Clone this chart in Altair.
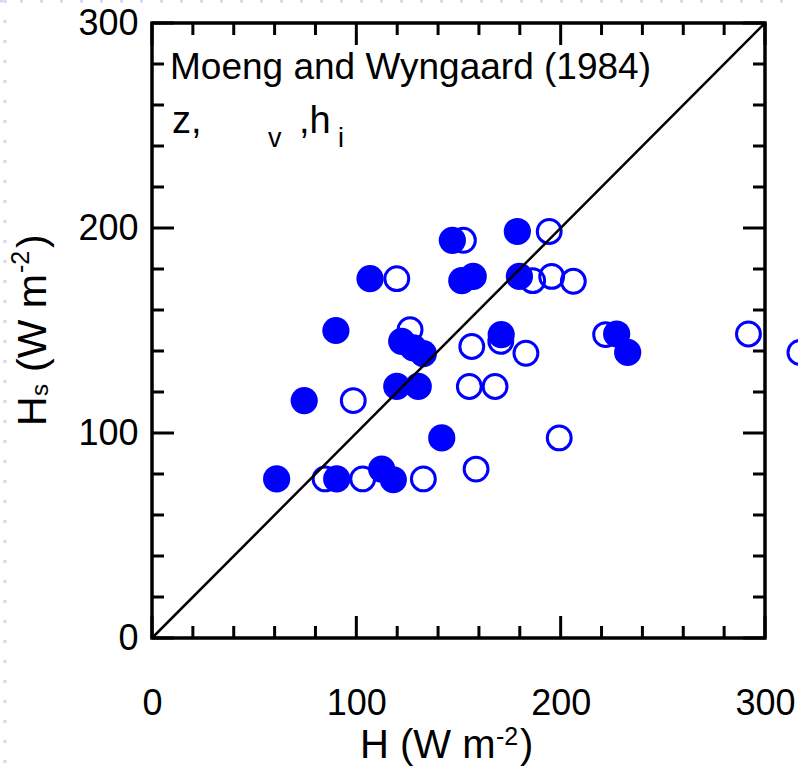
import altair as alt
import pandas as pd

# Sensible heat flux: observed H vs. scaled estimate Hs (W m-2)
filled_H = [61.0, 74.5, 90.0, 90.4, 106.7, 112.4, 118.1, 119.8, 122.2, 127.9, 132.8,
            130.3, 141.8, 147.0, 151.6, 157.2, 170.9, 178.8, 179.8, 227.4, 232.8]
filled_Hs = [77.6, 115.8, 150.0, 77.6, 175.3, 82.4, 77.2, 122.7, 144.7, 141.5, 138.7,
             122.7, 97.6, 194.0, 174.3, 176.4, 148.0, 198.3, 176.4, 148.3, 139.3]

open_H = [84.7, 98.5, 103.1, 119.8, 126.3, 132.8, 152.4, 155.3, 156.5, 158.6, 167.9,
          170.7, 183.0, 186.3, 194.4, 195.6, 199.3, 206.2, 222.0, 291.9, 317.1]
open_Hs = [77.6, 115.8, 77.6, 175.3, 150.4, 77.6, 194.0, 122.7, 142.2, 82.4, 122.7,
           144.7, 138.9, 174.3, 198.3, 176.4, 97.6, 174.0, 148.0, 148.3, 139.3]

one_to_one = [0, 300]
major_ticks = [0, 100, 200, 300]
minor_ticks = [20, 40, 60, 80, 120, 140, 160, 180, 220, 240, 260, 280]

title_text = "Moeng and Wyngaard (1984)"

W, H = 613, 615
FONT = "Liberation Sans"
BLUE = "#0000ff"

xs = alt.Scale(domain=[0, 300], nice=False, zero=False)
ys = alt.Scale(domain=[0, 300], nice=False, zero=False)

x_axis = alt.Axis(values=major_ticks, labelFontSize=36, labelFont=FONT, labelColor="black",
                  labelPadding=48, ticks=False, tickSize=0, domain=False, grid=False,
                  title=None, labelFlush=False)
y_axis = alt.Axis(values=major_ticks, labelFontSize=36, labelFont=FONT, labelColor="black",
                  labelPadding=14, ticks=False, tickSize=0, domain=False, grid=False,
                  title=None, labelFlush=False)

X = alt.X("H:Q", scale=xs, axis=x_axis)
Y = alt.Y("Hs:Q", scale=ys, axis=y_axis)

filled_df = pd.DataFrame({"H": filled_H, "Hs": filled_Hs})
open_df = pd.DataFrame({"H": open_H, "Hs": open_Hs})
line_df = pd.DataFrame({"H": one_to_one, "Hs": one_to_one})
major_df = pd.DataFrame({"v": major_ticks})
minor_df = pd.DataFrame({"v": minor_ticks})

# faint dotted page border
border_left = alt.Chart(major_df.head(1)).mark_rule(
    color="#d6d6f4", strokeWidth=3, strokeDash=[3, 17]
).encode(x=alt.value(-147), y=alt.value(-23), y2=alt.value(746))
border_top = alt.Chart(major_df.head(1)).mark_rule(
    color="#d6d6f4", strokeWidth=3, strokeDash=[3, 17]
).encode(y=alt.value(-22), x=alt.value(-152), x2=alt.value(646))

open_pts = alt.Chart(open_df).mark_point(
    shape="circle", filled=False, size=570, strokeWidth=3, color=BLUE, opacity=1
).encode(x=X, y=Y)

filled_pts = alt.Chart(filled_df).mark_point(
    shape="circle", filled=True, size=740, color=BLUE, opacity=1
).encode(x=X, y=Y)

diag = alt.Chart(line_df).mark_line(color="black", strokeWidth=2.5).encode(x=X, y=Y)


def tick_layers(df, length):
    xv = alt.X("v:Q", scale=xs, axis=x_axis)
    yv = alt.Y("v:Q", scale=ys, axis=y_axis)
    rule = dict(color="black", strokeWidth=3)
    return [
        alt.Chart(df).mark_rule(**rule).encode(x=xv, y=alt.value(H), y2=alt.value(H - length)),
        alt.Chart(df).mark_rule(**rule).encode(x=xv, y=alt.value(0), y2=alt.value(length)),
        alt.Chart(df).mark_rule(**rule).encode(y=yv, x=alt.value(0), x2=alt.value(length)),
        alt.Chart(df).mark_rule(**rule).encode(y=yv, x=alt.value(W), x2=alt.value(W - length)),
    ]


def label(text, x, y, size, angle=0):
    return alt.Chart(pd.DataFrame({"t": [text]})).mark_text(
        align="left", baseline="alphabetic", font=FONT, fontSize=size,
        color="black", angle=angle
    ).encode(text="t:N", x=alt.value(x), y=alt.value(y))


texts = [
    label(title_text, 18, 56, 37),
    label("z,", 20, 110, 38),
    label("v", 116, 124, 27),
    label(",h", 147, 110, 38),
    label("i", 186, 124, 27),
    # x-axis title: H (W m^-2)
    label("H (W m", 208, 735, 40),
    label("-2", 344, 722, 25),
    label(")", 368, 735, 40),
    # y-axis title: H_s (W m^-2), rotated
    label("H", -106, 403, 41, 270),
    label("s", -104, 373, 24, 270),
    label("(W m", -106, 349, 41, 270),
    label("-2", -123, 250, 25, 270),
    label(")", -106, 225, 41, 270),
]

chart = alt.layer(
    border_left, border_top, open_pts, filled_pts, diag,
    *tick_layers(major_df, 22), *tick_layers(minor_df, 12),
    *texts
).properties(
    width=W, height=H,
    padding={"left": 152, "top": 23, "right": 33, "bottom": 131},
    autosize=alt.AutoSizeParams(type="none"),
    background="white",
).configure_view(stroke="black", strokeWidth=3.5)

chart.save("out.html", embed_options={"renderer": "svg", "actions": False})
